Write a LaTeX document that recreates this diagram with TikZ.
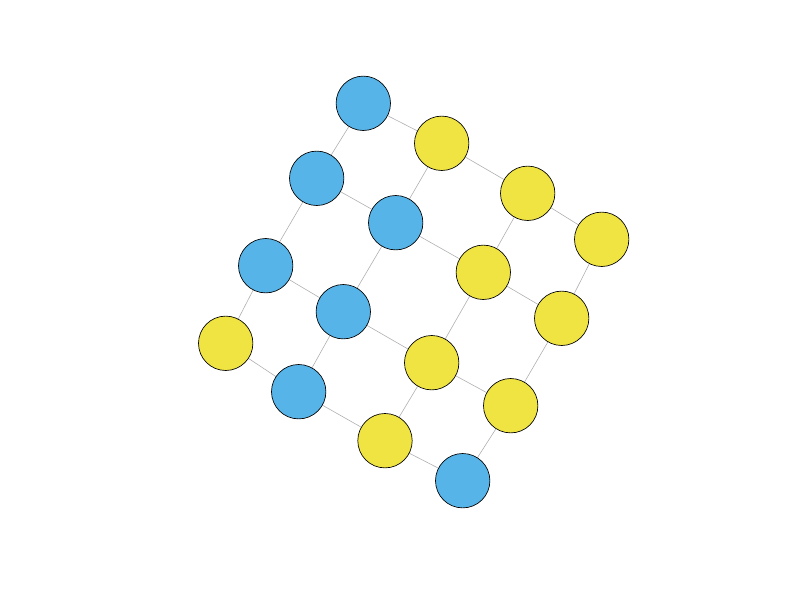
\documentclass[tikz,border=0pt]{standalone}
\definecolor{nblue}{HTML}{56B4E9}
\definecolor{nyellow}{HTML}{F0E442}
\definecolor{edgegray}{HTML}{B0B0B0}
\begin{document}
\begin{tikzpicture}[x=0.75pt,y=-0.75pt,
  vtx/.style={circle,draw=black,line width=0.5pt,minimum size=40.8pt,inner sep=0pt},
  bnode/.style={vtx,fill=nblue},
  ynode/.style={vtx,fill=nyellow},
  edge/.style={draw=edgegray,line width=0.45pt}]
\useasboundingbox (0,0) rectangle (800,600);
% row 1
\coordinate (p11) at (363.3,103.3);
\coordinate (p12) at (441.7,143.3);
\coordinate (p13) at (527.7,193.3);
\coordinate (p14) at (601.7,239.3);
% row 2
\coordinate (p21) at (316.7,178.3);
\coordinate (p22) at (395.7,222.7);
\coordinate (p23) at (483.3,272.3);
\coordinate (p24) at (561.7,318.3);
% row 3
\coordinate (p31) at (265.7,265.7);
\coordinate (p32) at (343.3,311.7);
\coordinate (p33) at (431.7,362.7);
\coordinate (p34) at (510.7,405.7);
% row 4
\coordinate (p41) at (225.7,343.3);
\coordinate (p42) at (298.7,391.7);
\coordinate (p43) at (385.0,440.7);
\coordinate (p44) at (462.7,480.7);
% edges
\foreach \r in {1,2,3,4}{
  \draw[edge] (p\r1) -- (p\r2) -- (p\r3) -- (p\r4);
  \draw[edge] (p1\r) -- (p2\r) -- (p3\r) -- (p4\r);
}
% nodes
\node[bnode] (n11) at (p11) {};
\node[ynode] (n12) at (p12) {};
\node[ynode] (n13) at (p13) {};
\node[ynode] (n14) at (p14) {};
\node[bnode] (n21) at (p21) {};
\node[bnode] (n22) at (p22) {};
\node[ynode] (n23) at (p23) {};
\node[ynode] (n24) at (p24) {};
\node[bnode] (n31) at (p31) {};
\node[bnode] (n32) at (p32) {};
\node[ynode] (n33) at (p33) {};
\node[ynode] (n34) at (p34) {};
\node[ynode] (n41) at (p41) {};
\node[bnode] (n42) at (p42) {};
\node[ynode] (n43) at (p43) {};
\node[bnode] (n44) at (p44) {};
\end{tikzpicture}
\end{document}
